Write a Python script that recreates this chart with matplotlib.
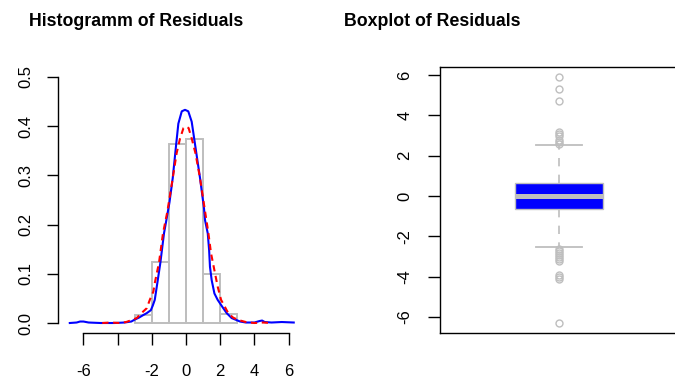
import numpy as np
import matplotlib
matplotlib.use('Agg')
import matplotlib.pyplot as plt

plt.rcParams['font.family'] = ['Liberation Sans', 'DejaVu Sans']

# histogram of residuals (density scale)
bin_edges = [-3, -2, -1, 0, 1, 2, 3]
bin_heights = [0.016, 0.123, 0.364, 0.374, 0.100, 0.018]

# kernel density of the residuals (blue)
kde_x = [-6.8, -6.4, -6.2, -6.0, -5.7, -5.0, -4.2, -3.6, -3.2, -3.0, -2.75, -2.51,
         -2.3, -2.06, -1.95, -1.83, -1.68, -1.50, -1.29, -1.12, -0.97, -0.78, -0.58,
         -0.45, -0.25, -0.06, 0.13, 0.33, 0.53, 0.82, 1.05, 1.11, 1.27, 1.35, 1.40,
         1.50, 1.66, 1.85, 2.12, 2.38, 2.67, 3.16, 3.5, 4.0, 4.3, 4.45, 4.6, 5.0,
         5.6, 6.3]
kde_y = [0.000, 0.001, 0.003, 0.003, 0.001, 0.000, 0.000, 0.001, 0.003, 0.007,
         0.011, 0.016, 0.020, 0.026, 0.035, 0.047, 0.081, 0.123, 0.182, 0.215,
         0.245, 0.294, 0.362, 0.405, 0.430, 0.433, 0.430, 0.409, 0.362, 0.294,
         0.233, 0.209, 0.182, 0.148, 0.114, 0.087, 0.060, 0.047, 0.033, 0.020,
         0.010, 0.003, 0.001, 0.001, 0.004, 0.005, 0.002, 0.001, 0.002, 0.001]

# reference density (red dashed)
ref_x = [-4.9, -4.4, -3.9, -3.5, -3.1, -2.89, -2.61, -2.3, -2.12, -1.91, -1.83,
         -1.58, -1.35, -1.1, -0.78, -0.55, -0.35, -0.15, 0.0, 0.15, 0.33, 0.55,
         0.82, 1.01, 1.31, 1.46, 1.70, 1.85, 2.05, 2.47, 2.75, 3.06, 3.5, 4.0,
         4.5, 5.0]
ref_y = [0.000, 0.001, 0.000, 0.002, 0.007, 0.010, 0.020, 0.030, 0.047, 0.064,
         0.081, 0.123, 0.182, 0.225, 0.294, 0.345, 0.375, 0.396, 0.399, 0.396,
         0.375, 0.345, 0.294, 0.250, 0.182, 0.142, 0.100, 0.074, 0.047, 0.020,
         0.011, 0.006, 0.002, 0.000, 0.001, 0.000]

x_ticks = [-6, -4, -2, 0, 2, 4, 6]
x_ticklabels = ['-6', '', '-2', '0', '2', '4', '6']
y_ticks = [0.0, 0.1, 0.2, 0.3, 0.4, 0.5]

# boxplot summary
box_med = 0.0
box_q1 = -0.64
box_q3 = 0.64
whisk_lo = -2.53
whisk_hi = 2.53
outliers = [2.6, 2.7, 2.8, 3.0, 3.1, 3.2, 4.7, 5.3, 5.9,
            -2.6, -2.7, -2.8, -2.9, -3.0, -3.1, -3.2, -3.9, -4.0, -4.1, -6.3]
box_ticks = [-6, -4, -2, 0, 2, 4, 6]

grey = '#BEBEBE'

fig = plt.figure(figsize=(6.75, 3.78), dpi=100)
W, H = 675.0, 378.0

# ---- histogram panel
ax1 = fig.add_axes([58 / W, (H - 333) / H, 246 / W, 266 / H])
lefts = bin_edges[:-1]
widths = np.diff(bin_edges)
ax1.bar(lefts, bin_heights, width=widths, align='edge', fill=False,
        edgecolor=grey, linewidth=1.4)
ax1.plot(kde_x, kde_y, color='blue', lw=1.5)
ax1.plot(ref_x, ref_y, color='red', lw=1.5, linestyle=(0, (3, 2.2)))
ax1.set_xlim(-7.49, 6.90)
ax1.set_ylim(-0.0203, 0.520)
for s in ['top', 'right']:
    ax1.spines[s].set_visible(False)
ax1.spines['left'].set_bounds(0, 0.5)
ax1.spines['bottom'].set_bounds(-6, 6)
ax1.set_xticks(x_ticks)
ax1.set_xticklabels(x_ticklabels)
ax1.set_yticks(y_ticks)
ax1.set_yticklabels(['%.1f' % v for v in y_ticks], rotation=90, va='center')
ax1.tick_params(axis='x', length=8.5, width=1, pad=13.5, labelsize=12)
ax1.tick_params(axis='y', length=8, width=1, pad=10, labelsize=12)
for s in ['left', 'bottom']:
    ax1.spines[s].set_linewidth(1)

# ---- boxplot panel
ax2 = fig.add_axes([440 / W, (H - 333) / H, 238 / W, 266 / H])
stats = [dict(med=box_med, q1=box_q1, q3=box_q3, whislo=whisk_lo,
              whishi=whisk_hi, fliers=outliers)]
ax2.bxp(stats, positions=[1], widths=[0.37], capwidths=[0.19],
        patch_artist=True,
        boxprops=dict(facecolor='blue', edgecolor=grey, linewidth=1),
        medianprops=dict(color=grey, linewidth=3.6, solid_capstyle='butt'),
        whiskerprops=dict(color=grey, linewidth=1.2, linestyle=(0, (5, 5))),
        capprops=dict(color=grey, linewidth=1.3),
        flierprops=dict(marker='o', markerfacecolor='none',
                        markeredgecolor=grey, markersize=5, markeredgewidth=1))
ax2.set_xlim(0.5, 1.5)
ax2.set_ylim(-6.79, 6.40)
ax2.set_xticks([])
ax2.set_yticks(box_ticks)
ax2.set_yticklabels([str(v) for v in box_ticks], rotation=90, va='center')
ax2.tick_params(axis='y', length=9, width=1, pad=11, labelsize=12)
for s in ax2.spines.values():
    s.set_linewidth(1)

fig.text(136 / W, 1 - 22 / H, 'Histogramm of Residuals', ha='center',
         va='center', fontsize=12.8, fontweight='bold')
fig.text(432 / W, 1 - 22 / H, 'Boxplot of Residuals', ha='center',
         va='center', fontsize=12.8, fontweight='bold')

fig.savefig('out.png', dpi=100)
